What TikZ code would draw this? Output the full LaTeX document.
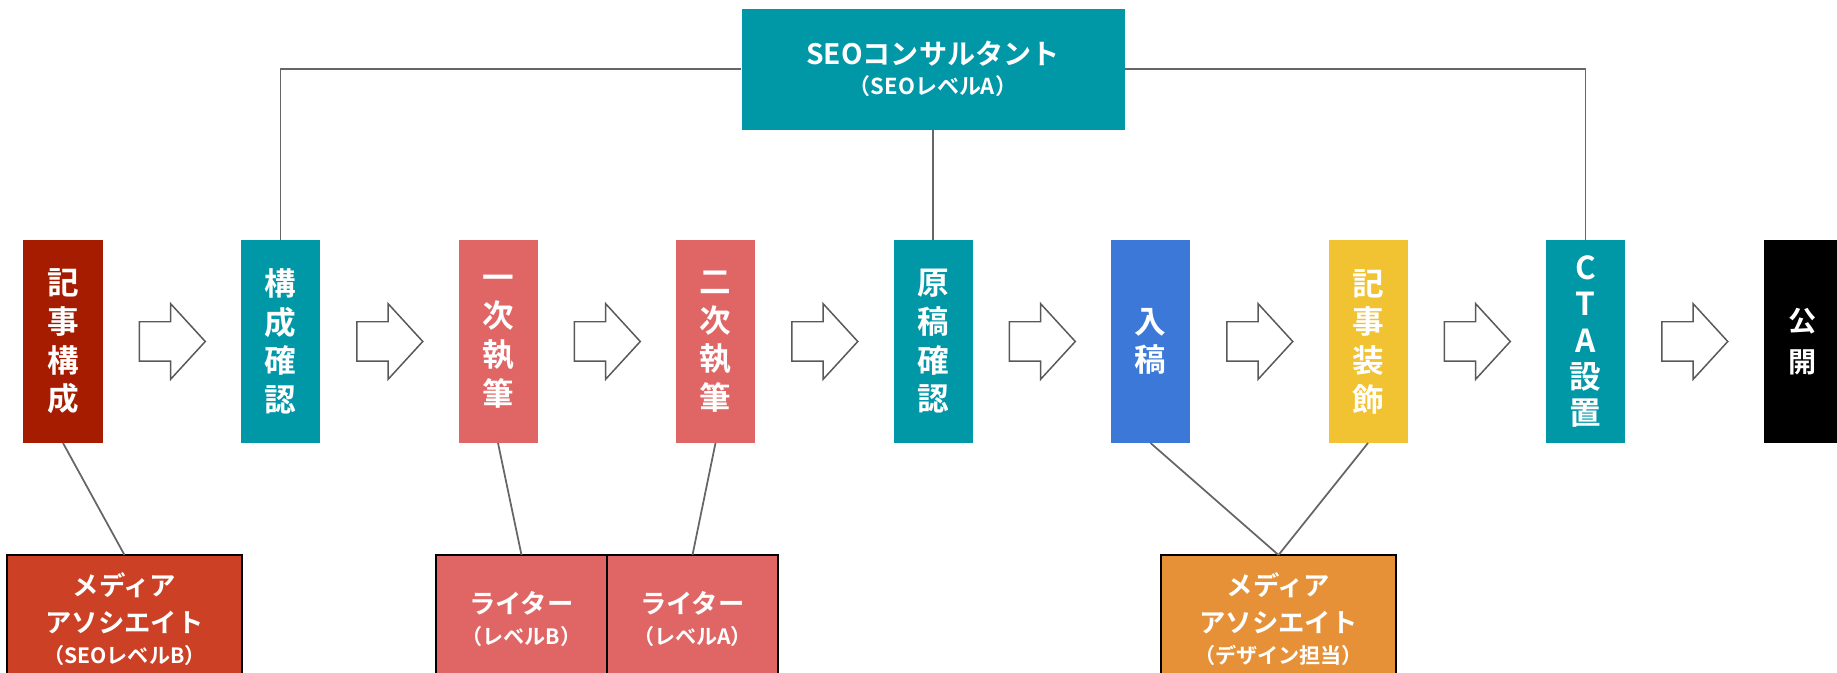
\documentclass[tikz,border=0pt]{standalone}
\usepackage{fontspec}
\setmainfont{Noto Sans CJK JP}[BoldFont={Noto Sans CJK JP Bold}]
\usetikzlibrary{positioning, shapes.arrows}

\definecolor{kijired}{HTML}{A61C00}
\definecolor{seoteal}{HTML}{0097A7}
\definecolor{writerred}{HTML}{E06666}
\definecolor{nyuublue}{HTML}{3C78D8}
\definecolor{sousyellow}{HTML}{F1C232}
\definecolor{medbred}{HTML}{CC4125}
\definecolor{designorange}{HTML}{E69138}
\definecolor{arrowgray}{HTML}{595959}
\definecolor{linkgray}{HTML}{666666}

\begin{document}
\begin{tikzpicture}[font=\bfseries,
    stepbox/.style={fill=#1, text=white, minimum width=1.58cm, minimum height=4.06cm, inner sep=0pt, outer sep=0pt, align=center, font=\fontsize{18}{22}\selectfont\bfseries},
    flow/.style={single arrow, draw=arrowgray, line width=0.85pt, fill=white, minimum height=1.32cm, inner xsep=0pt, inner ysep=0.38cm, single arrow head extend=0.36cm, single arrow tip angle=95},
    member/.style={draw=black, line width=1.1pt, fill=#1, text=white, minimum height=2.56cm, outer sep=0pt, align=center, font=\fontsize{15}{21}\selectfont\bfseries},
    link/.style={draw=linkgray, line width=1pt},
    ]
    \useasboundingbox (0,0) rectangle (36.74,-13.46);

    % Steps
    \node[stepbox=kijired] (kousei) at (1.26,-6.83) {記\\事\\構\\成};
    \node[stepbox=seoteal, right=2.77cm of kousei] (kakunin) {構\\成\\確\\認};
    \node[stepbox=writerred, right=2.77cm of kakunin] (ichiji) {一\\次\\執\\筆};
    \node[stepbox=writerred, right=2.77cm of ichiji] (niji) {二\\次\\執\\筆};
    \node[stepbox=seoteal, right=2.77cm of niji] (genkou) {原\\稿\\確\\認};
    \node[stepbox=nyuublue, right=2.77cm of genkou] (nyuukou) {入\\稿};
    \node[stepbox=sousyellow, right=2.77cm of nyuukou] (soushoku) {記\\事\\装\\飾};
    \node[stepbox=seoteal, right=2.77cm of soushoku, font=\fontsize{18}{20.5}\selectfont\bfseries] (cta) {C\\T\\A\\設\\置};
    \node[stepbox=black, right=2.77cm of cta, font=\fontsize{16}{23}\selectfont\bfseries] (koukai) {公\\開};

    % Arrows between steps
    \foreach \a in {kousei, kakunin, ichiji, niji, genkou, nyuukou, soushoku, cta}
      \node[flow, right=0.72cm of \a] (arr-\a) {};

    % SEO consultant
    \node[fill=seoteal, text=white, minimum width=7.66cm, minimum height=2.42cm, inner sep=0pt, align=center, above=2.2cm of genkou] (seo)
      {{\fontsize{16}{20}\selectfont SEOコンサルタント}\\[5pt]{\fontsize{12.5}{15}\selectfont （SEOレベルA）}};

    % Members
    \node[member=medbred, minimum width=4.7cm] (medb) at (2.49,-12.38) {メディア\\アソシエイト\\[-3pt]{\fontsize{12}{16}\selectfont （SEOレベルB）}};
    \node[member=writerred, minimum width=3.42cm] (writerb) at (10.43,-12.38) {ライター\\[-3pt]{\fontsize{12}{16}\selectfont （レベルB）}};
    \node[member=writerred, minimum width=3.42cm, right=0pt of writerb] (writera) {ライター\\[-3pt]{\fontsize{12}{16}\selectfont （レベルA）}};
    \node[member=designorange, minimum width=4.7cm] (design) at (25.57,-12.38) {メディア\\アソシエイト\\[-3pt]{\fontsize{12}{16}\selectfont （デザイン担当）}};

    % Links
    \draw[link] (seo.west) -| (kakunin.north);
    \draw[link] (seo.east) -| (cta.north);
    \draw[link] (seo.south) -- (genkou.north);
    \draw[link] (kousei.south) -- (medb.north);
    \draw[link] (ichiji.south) -- (writerb.north);
    \draw[link] (niji.south) -- (writera.north);
    \draw[link] (nyuukou.south) -- (design.north);
    \draw[link] (soushoku.south) -- (design.north);
\end{tikzpicture}
\end{document}
